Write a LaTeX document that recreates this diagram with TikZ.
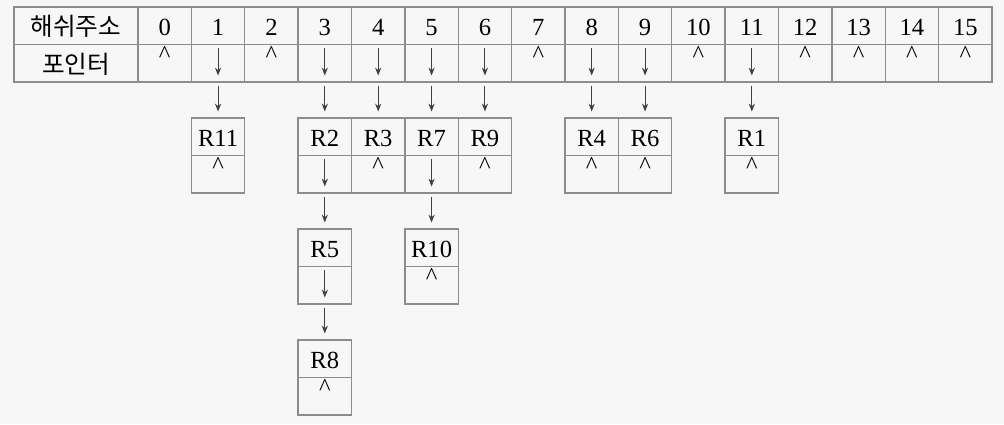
\documentclass[tikz,border=0pt]{standalone}
\usepackage{fontspec}
\setmainfont{Liberation Serif}
\newfontfamily\kor{Noto Sans CJK KR}
\usetikzlibrary{positioning,arrows.meta}
\newcommand{\nul}{\raisebox{0.42em}{\textasciicircum}}

\begin{document}
\begin{tikzpicture}[node distance = 0.72cm, auto,
	font=\fontsize{14}{16}\selectfont,
	cell/.style={draw=black!45, line width=0.8pt, outer sep=0pt, inner sep=0pt,
		minimum width=1.0675cm, minimum height=0.75cm, text height=1.32em, text depth=0.18em},
	ptr/.style={-{Stealth[length=4.5pt,width=3.5pt]}, draw=black!75, line width=0.55pt,
		shorten <=0.07cm, shorten >=0.13cm}]

 \fill[black!3] (0,0) rectangle (20.08,-8.48);
 \useasboundingbox (0,0) rectangle (20.08,-8.48);

 % hash table
 \node[cell, minimum width=2.48cm, anchor=north west] (a) at (0.28,-0.14) {\kor 해쉬주소};
 \node[cell, minimum width=2.48cm, below=0pt of a] (p) {\kor 포인터};
 \foreach \i/\t [evaluate=\i as \d using \i*1.0675] in {0/\nul,1/,2/\nul,3/,4/,5/,6/,7/\nul,8/,9/,10/\nul,11/,12/\nul,13/\nul,14/\nul,15/\nul} {
	\node[cell, right=\d cm of a] (a\i) {\i};
	\node[cell, below=0pt of a\i] (p\i) {\t};
 }

 % records
 \node[cell, below=of p1] (R11) {R11};
 \node[cell, below=0pt of R11] (R11n) {\nul};
 \node[cell, below=of p3] (R2) {R2};
 \node[cell, below=0pt of R2] (R2n) {};
 \node[cell, below=of p4] (R3) {R3};
 \node[cell, below=0pt of R3] (R3n) {\nul};
 \node[cell, below=of p5] (R7) {R7};
 \node[cell, below=0pt of R7] (R7n) {};
 \node[cell, below=of p6] (R9) {R9};
 \node[cell, below=0pt of R9] (R9n) {\nul};
 \node[cell, below=of p8] (R4) {R4};
 \node[cell, below=0pt of R4] (R4n) {\nul};
 \node[cell, below=of p9] (R6) {R6};
 \node[cell, below=0pt of R6] (R6n) {\nul};
 \node[cell, below=of p11] (R1) {R1};
 \node[cell, below=0pt of R1] (R1n) {\nul};
 \node[cell, below=of R2n] (R5) {R5};
 \node[cell, below=0pt of R5] (R5n) {};
 \node[cell, below=of R5n] (R8) {R8};
 \node[cell, below=0pt of R8] (R8n) {\nul};
 \node[cell, below=of R7n] (R10) {R10};
 \node[cell, below=0pt of R10] (R10n) {\nul};

 % links
 \foreach \s/\r in {p1/R11,p3/R2,p4/R3,p5/R7,p6/R9,p8/R4,p9/R6,p11/R1,R2n/R5,R7n/R10,R5n/R8} {
	\draw[ptr] (\s.north) -- (\s.south);
	\draw[ptr] (\s) -- (\r);
 }
\end{tikzpicture}
\end{document}
